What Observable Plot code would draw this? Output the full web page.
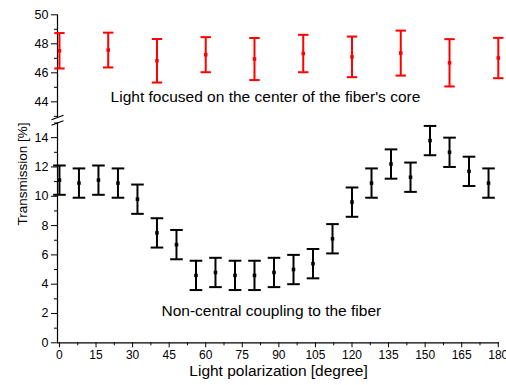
<!DOCTYPE html>
<html>
<head>
<meta charset="utf-8">
<script src="https://cdn.jsdelivr.net/npm/d3@7"></script>
<script src="https://cdn.jsdelivr.net/npm/@observablehq/plot@0.6"></script>
<style>
  body { margin: 0; background: #fff; }
  #chart { position: relative; width: 506px; height: 385px; font-family: "Liberation Sans", Arial, sans-serif; }
  #chart svg { position: absolute; left: 0; top: 0; }
</style>
</head>
<body>
<div id="chart"></div>
<script>
// ---- data ----
const redX = [0, 20, 40, 60, 80, 100, 120, 140, 160, 180];
const redY = [47.52, 47.57, 46.83, 47.25, 46.95, 47.33, 47.1, 47.36, 46.69, 47.02];
const redErr = [1.22, 1.2, 1.5, 1.21, 1.45, 1.29, 1.4, 1.55, 1.63, 1.39];

const blackX = [0, 8, 16, 24, 32, 40, 48, 56, 64, 72, 80, 88, 96, 104, 112, 120, 128, 136, 144, 152, 160, 168, 176];
const blackY = [11.1, 10.9, 11.1, 10.9, 9.8, 7.5, 6.7, 4.6, 4.8, 4.6, 4.6, 4.8, 5.0, 5.4, 7.1, 9.6, 10.9, 12.2, 11.3, 13.8, 13.0, 11.7, 10.9];
const blackErr = [1, 1, 1, 1, 1, 1, 1, 1, 1, 1, 1, 1, 1, 1, 1, 1, 1, 1, 1, 1, 1, 1, 1];

const xTicks = [0, 15, 30, 45, 60, 75, 90, 105, 120, 135, 150, 165, 180];
const xMinorTicks = [7.5, 22.5, 37.5, 52.5, 67.5, 82.5, 97.5, 112.5, 127.5, 142.5, 157.5, 172.5];
const yTopTicks = [44, 46, 48, 50];
const yTopMinorTicks = [43, 45, 47, 49];
const yBottomTicks = [0, 2, 4, 6, 8, 10, 12, 14];
const yBottomMinorTicks = [1, 3, 5, 7, 9, 11, 13, 15];

const xDomain = [-0.8, 180.5];
const yTopDomain = [42.92, 50];
const yBottomDomain = [0, 15];

const xLabel = "Light polarization [degree]";
const yLabel = "Transmission [%]";
const topNote = "Light focused on the center of the fiber's core";
const bottomNote = "Non-central coupling to the fiber";

// ---- tables ----
const red = redX.map((x, i) => ({x, y: redY[i], lo: redY[i] - redErr[i], hi: redY[i] + redErr[i]}));
const black = blackX.map((x, i) => ({x, y: blackY[i], lo: blackY[i] - blackErr[i], hi: blackY[i] + blackErr[i]}));

// custom symbols
const hline = { draw(ctx, size) { const w = Math.sqrt(size / Math.PI); ctx.moveTo(-w, 0); ctx.lineTo(w, 0); } };
const slash = { draw(ctx) { ctx.moveTo(-6, 2.2); ctx.lineTo(6, -2.2); } };

const font = "'Liberation Sans', Arial, sans-serif";
const RED = "#ff0000";

const topChart = Plot.plot({
  width: 506, height: 125,
  marginLeft: 57, marginRight: 7, marginTop: 14.3, marginBottom: 8,
  style: { background: "transparent", fontFamily: font, color: "#000" },
  x: { domain: xDomain, axis: null },
  y: { domain: yTopDomain, axis: null },
  marks: [
    Plot.axisY(yTopTicks, { tickSize: 6, tickPadding: 3, label: null, fontSize: 12.5, tickFormat: d => String(d) }),
    Plot.axisY(yTopMinorTicks, { tickSize: 3, label: null, tickFormat: () => "" }),
    Plot.ruleX([xDomain[0]], { stroke: "#000", strokeWidth: 1.2 }),
    Plot.dot([{x: xDomain[0], y: yTopDomain[0]}], { x: "x", y: "y", symbol: slash, r: 6, stroke: "#000", strokeWidth: 1.2, fill: "none" }),
    Plot.ruleX(red, { x: "x", y1: "lo", y2: "hi", stroke: RED, strokeWidth: 2 }),
    Plot.dot(red, { x: "x", y: "lo", symbol: hline, r: 5.2, stroke: RED, strokeWidth: 2, fill: "none" }),
    Plot.dot(red, { x: "x", y: "hi", symbol: hline, r: 5.2, stroke: RED, strokeWidth: 2, fill: "none" }),
    Plot.dot(red, { x: "x", y: "y", symbol: "square", r: 2, fill: RED, stroke: "none" }),
    Plot.text([topNote], { x: 84.5, y: 44.3, text: d => d, fontSize: 15.5, fill: "#000" })
  ]
});

const bottomChart = Plot.plot({
  width: 506, height: 385,
  marginLeft: 57, marginRight: 7, marginTop: 122.5, marginBottom: 42.7,
  style: { background: "transparent", fontFamily: font, color: "#000" },
  x: { domain: xDomain, axis: null },
  y: { domain: yBottomDomain, axis: null },
  marks: [
    Plot.axisY(yBottomTicks, { tickSize: 6, tickPadding: 3, label: null, fontSize: 12.5, tickFormat: d => String(d) }),
    Plot.axisY(yBottomMinorTicks, { tickSize: 3, label: null, tickFormat: () => "" }),
    Plot.axisX(xTicks, { tickSize: 5, tickPadding: 3, label: null, fontSize: 12, tickFormat: d => String(d) }),
    Plot.axisX(xMinorTicks, { tickSize: 3, label: null, tickFormat: () => "" }),
    Plot.ruleX([xDomain[0]], { stroke: "#000", strokeWidth: 1.2 }),
    Plot.ruleY([yBottomDomain[0]], { stroke: "#000", strokeWidth: 1.2 }),
    Plot.dot([{x: xDomain[0], y: yBottomDomain[1]}], { x: "x", y: "y", symbol: slash, r: 6, stroke: "#000", strokeWidth: 1.2, fill: "none" }),
    Plot.ruleX(black, { x: "x", y1: "lo", y2: "hi", stroke: "#000", strokeWidth: 2 }),
    Plot.dot(black, { x: "x", y: "lo", symbol: hline, r: 6.3, stroke: "#000", strokeWidth: 2, fill: "none" }),
    Plot.dot(black, { x: "x", y: "hi", symbol: hline, r: 6.3, stroke: "#000", strokeWidth: 2, fill: "none" }),
    Plot.dot(black, { x: "x", y: "y", symbol: "square", r: 2, fill: "#000", stroke: "none" }),
    Plot.text([bottomNote], { x: 86.9, y: 2.2, text: d => d, fontSize: 15.5, fill: "#000" }),
    Plot.text([xLabel], { frameAnchor: "bottom", dy: 32.7, text: d => d, fontSize: 15.5, fill: "#000" }),
    Plot.text([yLabel], { frameAnchor: "top-left", textAnchor: "middle", dx: -40.3, dy: 51, rotate: -90, text: d => d, fontSize: 13.5, fill: "#000" })
  ]
});

const el = document.getElementById("chart");
el.appendChild(bottomChart);
el.appendChild(topChart);
</script>
</body>
</html>
